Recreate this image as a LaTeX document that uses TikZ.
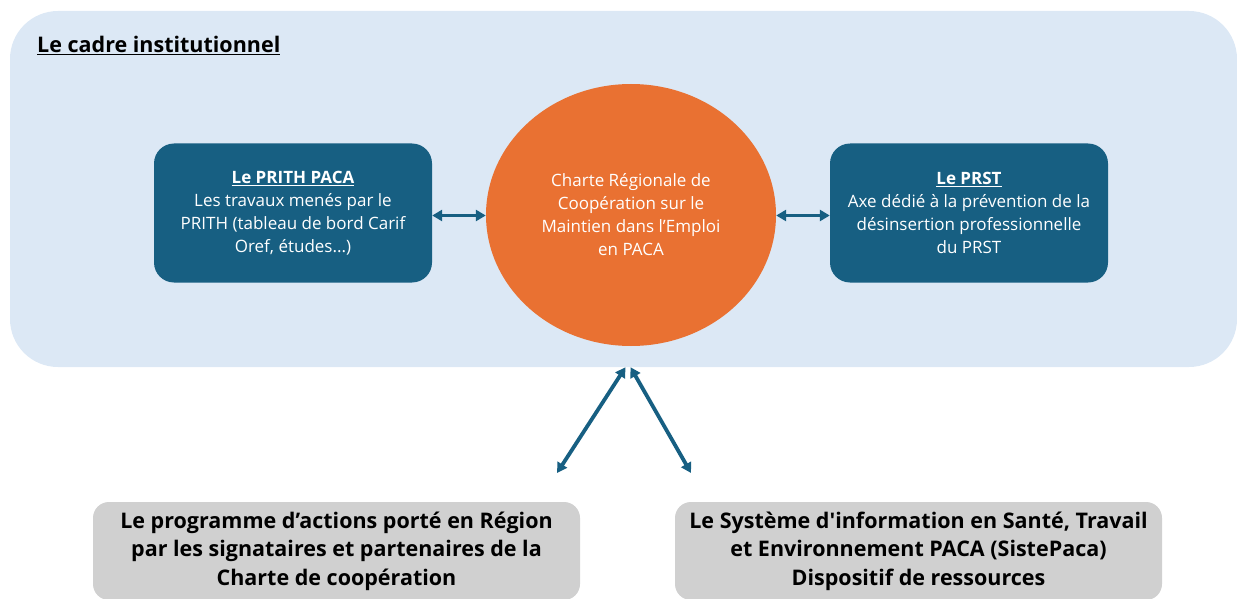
\documentclass[tikz,border=0pt]{standalone}
\usepackage{fontspec}
\setmainfont{Open Sans}
\usepackage{xcolor}
\usetikzlibrary{positioning,arrows.meta,shapes.geometric}

\definecolor{cadrebg}{HTML}{DCE8F5}
\definecolor{axeblue}{HTML}{175F82}
\definecolor{charteorange}{HTML}{E97132}
\definecolor{dispgray}{HTML}{D0D0D0}

\begin{document}
\begin{tikzpicture}[x=1pt, y=-1pt,
    bluebox/.style={draw=none, fill=axeblue, text=white, rounded corners=20pt,
        minimum width=278pt, minimum height=139pt, align=center,
        font=\fontsize{17}{23}\selectfont},
    graybox/.style={draw=none, fill=dispgray, rounded corners=16pt,
        minimum width=487pt, minimum height=98pt, align=center,
        font=\fontsize{21.5}{28.5}\selectfont\bfseries},
    link/.style={{Triangle[length=10pt,width=11pt]}-{Triangle[length=10pt,width=11pt]}, line width=3.8pt, draw=axeblue}]
    \clip (0,0) rectangle (1237,599);
    \useasboundingbox (0,0) rectangle (1237,599);

    % le cadre institutionnel
    \node[fill=cadrebg, rounded corners=48pt, minimum width=1227pt, minimum height=356pt] (cadre) at (623.5,189) {};
    \node[anchor=base west, inner sep=0pt, font=\fontsize{21.5}{23}\selectfont\bfseries] (titre) at (37,53) {\underline{Le cadre institutionnel}};

    \node[ellipse, fill=charteorange, text=white, minimum width=290pt, minimum height=262pt, inner sep=0pt,
        align=center, font=\fontsize{17}{23}\selectfont] (charte) at (631,215) {
        Charte Régionale de\\
        Coopération sur le\\
        Maintien dans l’Emploi\\
        en PACA
    };

    \node[bluebox] (prith) at (293,213) {
        \textbf{\underline{Le PRITH PACA}}\\
        Les travaux menés par le\\
        PRITH (tableau de bord Carif\\
        Oref, études...)
    };
    \node[bluebox] (prst) at (969,213) {
        \textbf{\underline{Le PRST}}\\
        Axe dédié à la prévention de la\\
        désinsertion professionnelle\\
        du PRST
    };

    \draw[link] ([yshift=-2.5pt]prith.east) -- ([yshift=-2.5pt]prith.east -| charte.west);
    \draw[link] ([yshift=-2.5pt]prst.west) -- ([yshift=-2.5pt]prst.west -| charte.east);

    % dispositifs en dessous
    \node[graybox] (programme) at (336.5,551) {
        Le programme d’actions porté en Région\\
        par les signataires et partenaires de la\\
        Charte de coopération
    };
    \node[graybox] (siste) at (918.5,551) {
        Le Système d\textquotesingle information en Santé, Travail\\
        et Environnement PACA (SistePaca)\\
        Dispositif de ressources
    };

    \coordinate (versprog) at (557,473);
    \coordinate (verssiste) at (691,473);
    \draw[link] ([xshift=2pt]cadre.south) -- (versprog);
    \draw[link] ([xshift=7pt]cadre.south) -- (verssiste);
\end{tikzpicture}
\end{document}
